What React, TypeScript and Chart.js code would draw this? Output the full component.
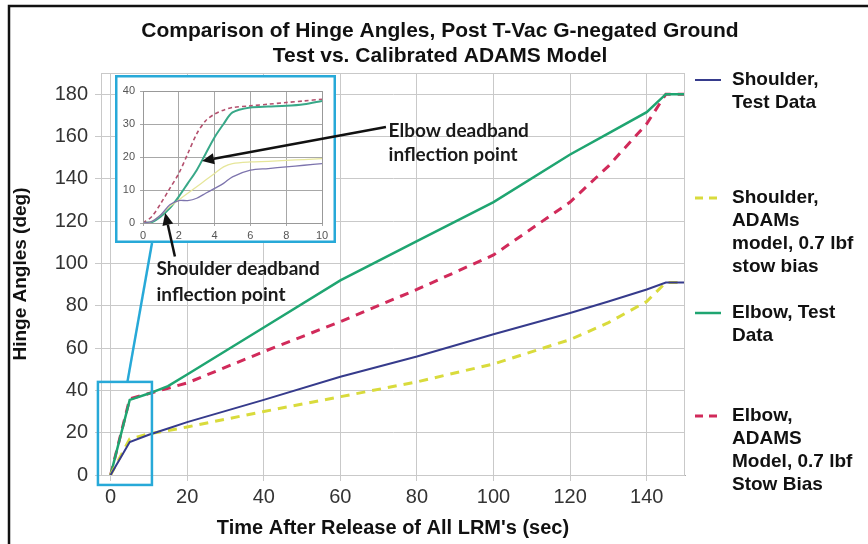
import React, { useEffect, useRef } from "react";
import { Chart, registerables } from "chart.js";

Chart.register(...registerables);

// ---------- data ----------
// inset (0–10 s)
const timeFine = [0, 0.5, 1, 1.5, 2, 2.5, 3, 3.5, 4, 4.5, 5, 6, 7, 8, 9, 10];
const shoulderTestFine = [0, 0.5, 2.5, 5.5, 6.8, 6.8, 7.5, 9, 10.5, 12, 14, 16, 16.5, 17, 17.5, 18];
const shoulderModelFine = [0, 0.5, 2.5, 5, 7, 9, 11, 13, 15, 17, 18, 18.5, 18.7, 19, 19.2, 19.5];
const elbowTestFine = [0, 0.3, 2, 4.5, 8, 12, 16, 21, 26, 30, 33.5, 35, 35.3, 35.5, 36, 37];
const elbowModelFine = [0, 2, 6, 10.5, 15, 21, 27, 31, 33, 34.2, 35, 35.5, 36, 36.5, 37, 37.5];

// main chart (0–150 s)
const timeMain = [0, 5, 10, 15, 20, 40, 60, 80, 100, 120, 130, 140, 145, 150];
const shoulderTestMain = [0, 15.6, 19, 22, 25, 35.5, 46.4, 56, 66.5, 76.6, 82, 87.7, 91, 91];
const shoulderModelMain = [0, 17, 19.5, 21, 22.7, 30, 37, 44, 52.5, 64, 72, 82, 91, 91];
const elbowTestMain = [0, 35.5, 38.5, 42, 47.5, 69.7, 92, 110.5, 129, 151.5, 161.5, 171.5, 180, 180];
const elbowModelMain = [0, 36, 38.5, 41, 43.5, 58.3, 72.5, 87.7, 104, 129, 146, 166, 180, 180];

const seriesNames = [
  "Shoulder, Test Data",
  "Shoulder, ADAMs model, 0.7 lbf stow bias",
  "Elbow, Test Data",
  "Elbow, ADAMS Model, 0.7 lbf Stow Bias",
];
const legendLines = [
  ["Shoulder,", "Test Data"],
  ["Shoulder,", "ADAMs", "model, 0.7 lbf", "stow bias"],
  ["Elbow, Test", "Data"],
  ["Elbow,", "ADAMS", "Model, 0.7 lbf", "Stow Bias"],
];
const titleLines = [
  "Comparison of Hinge Angles, Post T-Vac G-negated Ground",
  "Test vs. Calibrated ADAMS Model",
];
const xTitle = "Time After Release of All LRM's (sec)";
const yTitle = "Hinge Angles (deg)";
const elbowNote = ["Elbow deadband", "inflection point"];
const shoulderNote = ["Shoulder deadband", "inflection point"];

// ---------- styles ----------
const COLORS = ["#363b8c", "#d9db3c", "#1fa571", "#d12a5a"];
const INSET_COLORS = ["#7d74ad", "#e6e69a", "#38a888", "#b4506e"];
const DASHES: number[][] = [[], [9, 7], [], [9, 7]];
const WIDTHS = [2, 3, 2.5, 3];
const CYAN = "#27a9d8";
const GRID = "#c9c9c9";
const INSET = { left: 115, top: 75, w: 221, h: 168 };

function pts(t: number[], v: number[]) {
  return t.map((x, i) => ({ x, y: v[i] }));
}

const mainSeries = [shoulderTestMain, shoulderModelMain, elbowTestMain, elbowModelMain];
const insetSeries = [shoulderTestFine, shoulderModelFine, elbowTestFine, elbowModelFine];

const TICK_FONT = { family: "'Liberation Sans', Arial, sans-serif", size: 20 };
const BOLD = "'Liberation Sans', Arial, sans-serif";
const NOTE_FONT = "bold 19px Lato, 'Open Sans', sans-serif";

export default function App() {
  const mainRef = useRef<HTMLCanvasElement>(null);
  const insetRef = useRef<HTMLCanvasElement>(null);
  const overlayRef = useRef<HTMLCanvasElement>(null);

  useEffect(() => {
    document.body.style.margin = "0";

    const decoPlugin = {
      id: "deco",
      afterDraw(chart: any) {
        const ctx = chart.ctx as CanvasRenderingContext2D;
        const { left, right, top, bottom } = chart.chartArea;
        const xs = chart.scales.x;
        const ys = chart.scales.y;
        ctx.save();
        // plot frame
        ctx.strokeStyle = GRID;
        ctx.lineWidth = 1;
        ctx.strokeRect(left + 0.5, top + 0.5, right - left - 1, bottom - top);
        // outer black frame
        ctx.strokeStyle = "#111";
        ctx.lineWidth = 2.5;
        ctx.beginPath();
        ctx.moveTo(9, 600);
        ctx.lineTo(9, 6);
        ctx.lineTo(900, 6);
        ctx.stroke();
        // zoom box in data coordinates
        const bx0 = xs.getPixelForValue(-3.3);
        const bx1 = xs.getPixelForValue(10.8);
        const by0 = ys.getPixelForValue(44);
        const by1 = ys.getPixelForValue(-4.7);
        ctx.strokeStyle = CYAN;
        ctx.lineWidth = 2.5;
        ctx.strokeRect(bx0, by0, bx1 - bx0, by1 - by0);
        // connector
        ctx.beginPath();
        ctx.moveTo(INSET.left + 37, INSET.top + INSET.h);
        ctx.lineTo(xs.getPixelForValue(4.4), by0);
        ctx.stroke();
        // title
        ctx.fillStyle = "#111";
        ctx.textAlign = "center";
        ctx.textBaseline = "middle";
        ctx.font = `bold 21px ${BOLD}`;
        ctx.fillText(titleLines[0], 440, 31);
        ctx.fillText(titleLines[1], 440, 56);
        // legend
        const legendY = [80, 198, 313, 416];
        ctx.font = `bold 19px ${BOLD}`;
        ctx.textAlign = "left";
        legendLines.forEach((lines, i) => {
          const y0 = legendY[i];
          ctx.strokeStyle = COLORS[i];
          ctx.lineWidth = WIDTHS[i];
          ctx.setLineDash(DASHES[i].length ? [8, 6] : []);
          ctx.beginPath();
          ctx.moveTo(695, y0);
          ctx.lineTo(721, y0);
          ctx.stroke();
          ctx.setLineDash([]);
          ctx.fillStyle = "#111";
          lines.forEach((s, j) => ctx.fillText(s, 732, y0 + j * 23));
        });
        ctx.restore();
      },
    };

    const main = new Chart(mainRef.current!, {
      type: "line",
      data: {
        datasets: mainSeries.map((v, i) => ({
          label: seriesNames[i],
          data: pts(timeMain, v),
          borderColor: COLORS[i],
          backgroundColor: COLORS[i],
          borderWidth: WIDTHS[i],
          borderDash: DASHES[i],
          pointRadius: 0,
          tension: 0,
          fill: false,
        })),
      },
      options: {
        responsive: false,
        animation: false,
        devicePixelRatio: 1,
        layout: { padding: { left: 0, top: 73, right: 183, bottom: 0 } },
        plugins: { legend: { display: false }, tooltip: { enabled: false }, title: { display: false } },
        scales: {
          x: {
            type: "linear",
            min: -2.5,
            max: 150,
            ticks: { stepSize: 20, includeBounds: false, font: TICK_FONT, color: "#333", padding: 4, maxRotation: 0 },
            grid: { color: GRID, tickLength: 6 },
            border: { color: "#aaa" },
            title: { display: true, text: xTitle, color: "#111", font: { family: BOLD, size: 20, weight: "bold" }, padding: { top: 0, bottom: 4 } },
            afterFit: (s: any) => { s.height = 69; },
          },
          y: {
            type: "linear",
            min: 0,
            max: 190,
            ticks: { stepSize: 20, includeBounds: false, font: TICK_FONT, color: "#333", padding: 7 },
            grid: { color: GRID, tickLength: 6 },
            border: { color: "#aaa" },
            title: { display: true, text: yTitle, color: "#111", font: { family: BOLD, size: 19, weight: "bold" }, padding: { top: 9, bottom: 0 } },
            afterFit: (s: any) => { s.width = 101; },
          },
        },
      },
      plugins: [decoPlugin],
    } as any);

    const insetBorder = {
      id: "insetBorder",
      beforeDraw(chart: any) {
        const ctx = chart.ctx as CanvasRenderingContext2D;
        ctx.save();
        ctx.fillStyle = "#fff";
        ctx.fillRect(0, 0, chart.width, chart.height);
        ctx.restore();
      },
      afterDraw(chart: any) {
        const ctx = chart.ctx as CanvasRenderingContext2D;
        const { left, right, top, bottom } = chart.chartArea;
        ctx.save();
        ctx.strokeStyle = "#999";
        ctx.lineWidth = 1;
        ctx.strokeRect(left + 0.5, top + 0.5, right - left, bottom - top);
        ctx.strokeStyle = CYAN;
        ctx.lineWidth = 2.5;
        ctx.strokeRect(1.25, 1.25, chart.width - 2.5, chart.height - 2.5);
        ctx.restore();
      },
    };

    const inset = new Chart(insetRef.current!, {
      type: "line",
      data: {
        datasets: insetSeries.map((v, i) => ({
          label: seriesNames[i],
          data: pts(timeFine, v),
          borderColor: INSET_COLORS[i],
          borderWidth: i === 2 ? 2 : i === 3 ? 1.6 : 1.3,
          borderDash: i === 3 ? [4, 3] : [],
          pointRadius: 0,
          tension: 0.3,
          fill: false,
        })),
      },
      options: {
        responsive: false,
        animation: false,
        devicePixelRatio: 1,
        layout: { padding: { left: 0, top: 16, right: 14, bottom: 0 } },
        plugins: { legend: { display: false }, tooltip: { enabled: false } },
        scales: {
          x: {
            type: "linear",
            min: 0,
            max: 10,
            ticks: { stepSize: 2, font: { family: "'Liberation Sans', Arial, sans-serif", size: 11 }, color: "#555", padding: 3, maxRotation: 0 },
            grid: { color: "#a8a8a8", tickLength: 3 },
            border: { color: "#999" },
            afterFit: (s: any) => { s.height = 20; },
          },
          y: {
            type: "linear",
            min: 0,
            max: 40,
            ticks: { stepSize: 10, font: { family: "'Liberation Sans', Arial, sans-serif", size: 11 }, color: "#555", padding: 5 },
            grid: { color: "#a8a8a8", tickLength: 3 },
            border: { color: "#999" },
            afterFit: (s: any) => { s.width = 28; },
          },
        },
      },
      plugins: [insetBorder],
    } as any);

    // overlay: arrows and notes
    const oc = overlayRef.current!;
    const ctx = oc.getContext("2d")!;
    ctx.clearRect(0, 0, oc.width, oc.height);
    const mx = main.scales.x as any;
    const my = main.scales.y as any;
    const ix = inset.scales.x as any;
    const iy = inset.scales.y as any;
    const arrow = (x0: number, y0: number, x1: number, y1: number) => {
      const a = Math.atan2(y1 - y0, x1 - x0);
      const L = 12;
      const W = 5.5;
      const bx = x1 - L * Math.cos(a);
      const by = y1 - L * Math.sin(a);
      ctx.strokeStyle = "#111";
      ctx.fillStyle = "#111";
      ctx.lineWidth = 2.5;
      ctx.beginPath();
      ctx.moveTo(x0, y0);
      ctx.lineTo(bx, by);
      ctx.stroke();
      ctx.beginPath();
      ctx.moveTo(x1, y1);
      ctx.lineTo(bx + W * Math.sin(a), by - W * Math.cos(a));
      ctx.lineTo(bx - W * Math.sin(a), by + W * Math.cos(a));
      ctx.closePath();
      ctx.fill();
    };
    arrow(
      mx.getPixelForValue(71.9), my.getPixelForValue(164.5),
      INSET.left + ix.getPixelForValue(3.3), INSET.top + iy.getPixelForValue(18.8)
    );
    arrow(
      mx.getPixelForValue(16.8), my.getPixelForValue(103.3),
      INSET.left + ix.getPixelForValue(1.24), INSET.top + iy.getPixelForValue(3)
    );
    ctx.fillStyle = "#1a1a1a";
    ctx.font = NOTE_FONT;
    ctx.textAlign = "left";
    ctx.textBaseline = "middle";
    const ex = mx.getPixelForValue(72.6);
    const ey = my.getPixelForValue(162.5);
    elbowNote.forEach((s, j) => ctx.fillText(s, ex, ey + j * 24));
    const sx = mx.getPixelForValue(12);
    const sy = my.getPixelForValue(97.5);
    shoulderNote.forEach((s, j) => ctx.fillText(s, sx, sy + j * 26));

    return () => {
      main.destroy();
      inset.destroy();
    };
  }, []);

  return (
    <div style={{ position: "relative", width: 868, height: 544, background: "#fff", overflow: "hidden" }}>
      <canvas ref={mainRef} width={868} height={544} style={{ position: "absolute", left: 0, top: 0 }} />
      <canvas
        ref={insetRef}
        width={INSET.w}
        height={INSET.h}
        style={{ position: "absolute", left: INSET.left, top: INSET.top }}
      />
      <canvas
        ref={overlayRef}
        width={868}
        height={544}
        style={{ position: "absolute", left: 0, top: 0, pointerEvents: "none" }}
      />
    </div>
  );
}
